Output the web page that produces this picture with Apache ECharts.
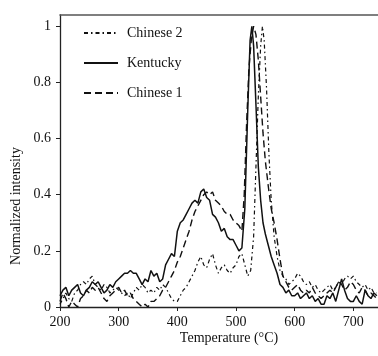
<!DOCTYPE html>
<html>
<head>
<meta charset="utf-8">
<script src="https://cdn.jsdelivr.net/npm/echarts@6/dist/echarts.min.js"></script>
<style>html,body{margin:0;padding:0;background:#fff;}#c{width:378px;height:356px;}</style>
</head>
<body>
<div id="c"></div>
<script>
const xTicks = [200, 300, 400, 500, 600, 700];
const yTicks = [0, 0.2, 0.4, 0.6, 0.8, 1];

const kentuckyT = [200,205,210,215,220,225,230,235,240,245,250,255,260,265,270,275,280,285,290,295,300,305,310,315,320,325,330,335,340,345,350,355,360,365,370,375,380,385,390,395,400,405,410,415,420,425,430,435,440,445,450,455,460,465,470,475,480,485,490,495,500,505,510,515,520,524,527,530,534,538,542,546,550,555,560,565,570,575,580,585,590,595,600,605,610,615,620,625,630,635,640,645,650,655,660,665,670,675,680,685,690,695,700,705,710,715,720,725,730,735,740];
const kentuckyV = [0.04,0.06,0.07,0.04,0.06,0.07,0.08,0.05,0.04,0.06,0.07,0.09,0.08,0.09,0.07,0.05,0.06,0.08,0.07,0.09,0.10,0.11,0.12,0.12,0.13,0.12,0.12,0.10,0.08,0.10,0.09,0.13,0.11,0.12,0.09,0.10,0.15,0.17,0.19,0.18,0.27,0.30,0.31,0.33,0.35,0.37,0.38,0.37,0.41,0.42,0.39,0.38,0.33,0.32,0.30,0.27,0.28,0.25,0.24,0.24,0.22,0.20,0.21,0.35,0.70,0.95,1.00,0.93,0.72,0.50,0.38,0.30,0.26,0.22,0.18,0.15,0.12,0.08,0.07,0.05,0.06,0.04,0.04,0.05,0.03,0.04,0.05,0.03,0.04,0.02,0.03,0.01,0.01,0.04,0.03,0.05,0.02,0.06,0.10,0.06,0.03,0.02,0.02,0.04,0.02,0.01,0.06,0.04,0.03,0.05,0.04];

const chinese1T = [200,205,210,215,220,225,230,235,240,245,250,255,260,265,270,275,280,285,290,295,300,305,310,315,320,325,330,335,340,345,350,355,360,365,370,375,380,385,390,395,400,405,410,415,420,425,430,435,440,445,450,455,460,465,470,475,480,485,490,495,500,505,510,514,518,522,526,530,534,538,542,546,550,555,560,565,570,575,580,585,590,595,600,605,610,615,620,625,630,635,640,645,650,655,660,665,670,675,680,685,690,695,700,705,710,715,720,725,730,735,740];
const chinese1V = [0.02,0.05,0.03,0.00,0.02,0.01,0.00,0.03,0.04,0.06,0.05,0.07,0.06,0.07,0.05,0.03,0.02,0.04,0.05,0.06,0.07,0.05,0.06,0.04,0.05,0.03,0.02,0.01,0.00,0.01,0.00,0.02,0.02,0.03,0.04,0.06,0.07,0.09,0.11,0.13,0.16,0.18,0.21,0.24,0.27,0.31,0.34,0.36,0.38,0.40,0.41,0.40,0.41,0.38,0.37,0.36,0.34,0.33,0.33,0.31,0.30,0.29,0.27,0.40,0.65,0.85,0.95,1.00,0.97,0.88,0.75,0.62,0.52,0.43,0.35,0.30,0.24,0.17,0.11,0.09,0.07,0.06,0.07,0.08,0.06,0.05,0.06,0.05,0.07,0.05,0.04,0.03,0.04,0.05,0.06,0.05,0.07,0.09,0.08,0.06,0.07,0.09,0.08,0.06,0.05,0.07,0.06,0.04,0.05,0.04,0.03];

const chinese2T = [200,205,210,215,220,225,230,235,240,245,250,255,260,265,270,275,280,285,290,295,300,305,310,315,320,325,330,335,340,345,350,355,360,365,370,375,380,385,390,395,400,405,410,415,420,425,430,435,440,445,450,455,460,465,470,475,480,485,490,495,500,505,510,515,520,525,530,534,538,542,545,548,552,556,560,565,570,575,580,585,590,595,600,605,610,615,620,625,630,635,640,645,650,655,660,665,670,675,680,685,690,695,700,705,710,715,720,725,730,735,740];
const chinese2V = [0.01,0.03,0.05,0.03,0.02,0.05,0.06,0.08,0.09,0.08,0.10,0.11,0.08,0.07,0.06,0.08,0.07,0.05,0.06,0.07,0.06,0.05,0.04,0.05,0.03,0.05,0.07,0.06,0.08,0.07,0.05,0.06,0.05,0.07,0.06,0.08,0.07,0.05,0.03,0.02,0.02,0.04,0.06,0.07,0.09,0.11,0.13,0.16,0.18,0.15,0.14,0.17,0.19,0.15,0.12,0.14,0.15,0.13,0.12,0.14,0.15,0.18,0.19,0.15,0.11,0.13,0.25,0.50,0.75,0.93,1.00,0.95,0.78,0.55,0.38,0.25,0.18,0.13,0.11,0.10,0.08,0.09,0.10,0.12,0.11,0.09,0.08,0.09,0.07,0.08,0.06,0.05,0.06,0.07,0.08,0.06,0.07,0.09,0.08,0.10,0.11,0.10,0.11,0.09,0.08,0.07,0.08,0.06,0.07,0.05,0.05];

const seriesNames = ['Chinese 2', 'Kentucky', 'Chinese 1'];

function pairs(t, v) { return t.map((x, i) => [x, v[i]]); }

const FONT = '"Liberation Serif", "DejaVu Serif", serif';
const INK = '#111';
const FS = 14;

const chart = echarts.init(document.getElementById('c'), null, { renderer: 'canvas' });
chart.setOption({
  animation: false,
  backgroundColor: '#fff',
  grid: { left: 60, top: 15, right: 0, bottom: 49, containLabel: false },
  legend: {
    orient: 'vertical', left: 78, top: 21, padding: 5,
    itemWidth: 34, itemHeight: 14, itemGap: 16,
    itemStyle: { opacity: 0, borderWidth: 0 },
    textStyle: { fontFamily: FONT, fontSize: FS, color: INK, padding: [0, 0, 0, 4] },
    data: seriesNames
  },
  xAxis: [{
    type: 'value', min: 200, max: 742, interval: 100,
    axisLine: { lineStyle: { color: '#222', width: 1.3 } },
    axisTick: { show: true, inside: false, length: 4, lineStyle: { color: '#222' } },
    splitLine: { show: false },
    axisLabel: {
      fontFamily: FONT, fontSize: FS, color: INK, margin: 8,
      showMaxLabel: false,
      formatter: v => (xTicks.indexOf(Math.round(v)) >= 0 ? String(Math.round(v)) : '')
    }
  }, {
    type: 'value', position: 'top', min: 200, max: 742,
    axisLine: { show: true, lineStyle: { color: '#555', width: 1.6 } },
    axisTick: { show: false }, axisLabel: { show: false }, splitLine: { show: false }
  }],
  yAxis: {
    type: 'value', min: 0, max: 1.04, interval: 0.2,
    axisLine: { show: true, lineStyle: { color: '#222', width: 1.3 } },
    axisTick: { show: true, inside: false, length: 4, lineStyle: { color: '#222' } },
    splitLine: { show: false },
    axisLabel: {
      fontFamily: FONT, fontSize: FS, color: INK, margin: 9,
      showMaxLabel: false,
      formatter: v => {
        const r = Math.round(v * 10) / 10;
        return yTicks.some(t => Math.abs(t - v) < 1e-6) ? String(r) : '';
      }
    }
  },
  graphic: [
    { type: 'text', x: 229, y: 338,
      style: { text: 'Temperature (°C)', fontFamily: FONT, fontSize: FS, fill: INK,
               align: 'center', verticalAlign: 'middle' } },
    { type: 'text', x: 16, y: 206, rotation: Math.PI / 2,
      style: { text: 'Normalized intensity', fontFamily: FONT, fontSize: FS, fill: INK,
               align: 'center', verticalAlign: 'middle' } }
  ],
  series: [
    { name: 'Chinese 2', type: 'line', data: pairs(chinese2T, chinese2V), showSymbol: false, symbol: 'none',
      lineStyle: { color: INK, width: 1.2, type: [4, 3, 1.5, 3] }, itemStyle: { color: INK }, z: 3 },
    { name: 'Kentucky', type: 'line', data: pairs(kentuckyT, kentuckyV), showSymbol: false, symbol: 'none',
      lineStyle: { color: INK, width: 1.5, type: 'solid' }, itemStyle: { color: INK }, z: 4 },
    { name: 'Chinese 1', type: 'line', data: pairs(chinese1T, chinese1V), showSymbol: false, symbol: 'none',
      lineStyle: { color: INK, width: 1.4, type: [7, 4] }, itemStyle: { color: INK }, z: 3 }
  ]
});
</script>
</body>
</html>
